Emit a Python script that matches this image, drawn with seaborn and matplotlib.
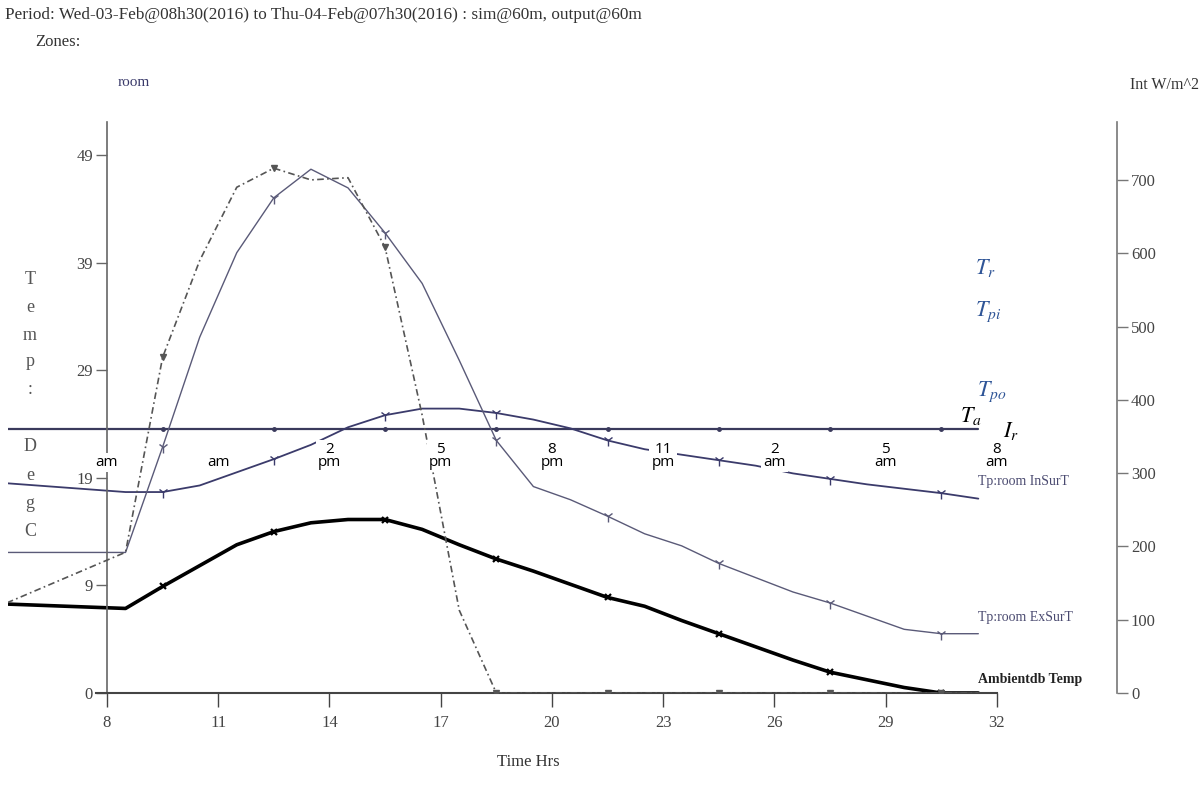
import matplotlib
matplotlib.use('Agg')
import matplotlib.pyplot as plt
import seaborn as sns

# hourly results (half-hour stamps), first value is where the trace enters on the left
hours = [5.3, 8.5, 9.5, 10.5, 11.5, 12.5, 13.5, 14.5, 15.5, 16.5, 17.5, 18.5, 19.5,
         20.5, 21.5, 22.5, 23.5, 24.5, 25.5, 26.5, 27.5, 28.5, 29.5, 30.5, 31.5]
ambient_db = [8.1, 7.7, 9.7, 11.6, 13.5, 14.7, 15.5, 15.8, 15.8, 14.9, 13.5, 12.2, 11.1,
              9.9, 8.7, 7.9, 6.6, 5.4, 4.2, 3.0, 1.9, 1.2, 0.5, 0.0, 0.0]
in_sur_t = [19.1, 18.3, 18.3, 18.9, 20.1, 21.3, 22.6, 24.2, 25.3, 25.9, 25.9, 25.5, 24.9,
            24.1, 23.0, 22.2, 21.7, 21.2, 20.7, 20.0, 19.5, 19.0, 18.6, 18.2, 17.7]
ex_sur_t = [12.8, 12.8, 22.4, 32.4, 40.1, 45.1, 47.7, 46.0, 41.9, 37.3, 30.3, 23.0, 18.8,
            17.6, 16.1, 14.5, 13.4, 11.8, 10.5, 9.2, 8.2, 7.0, 5.8, 5.4, 5.4]
flat_temp = [24.0, 24.0, 24.0, 24.0, 24.0, 24.0, 24.0, 24.0, 24.0, 24.0, 24.0, 24.0, 24.0,
             24.0, 24.0, 24.0, 24.0, 24.0, 24.0, 24.0, 24.0, 24.0, 24.0, 24.0, 24.0]
solar_int = [123, 192, 458, 590, 690, 716, 700, 703, 608, 379, 113, 0, 0,
             0, 0, 0, 0, 0, 0, 0, 0, 0, 0, 0, 0]

temp_ticks = [0, 9.8, 19.6, 29.4, 39.2, 49]
temp_tick_labels = ['0', '9', '19', '29', '39', '49']
hour_ticks = [8, 11, 14, 17, 20, 23, 26, 29, 32]
clock_labels = ['am', 'am', '2\npm', '5\npm', '8\npm', '11\npm', '2\nam', '5\nam', '8\nam']
int_ticks = [0, 100, 200, 300, 400, 500, 600, 700]

sns.set_theme(style='ticks')
plt.rcParams['font.family'] = ['Liberation Serif', 'DejaVu Serif']
plt.rcParams['mathtext.fontset'] = 'stix'

W, H = 1201, 787
fig = plt.figure(figsize=(W / 100, H / 100), dpi=100)
ax = fig.add_axes([8 / W, 94 / H, 1109 / W, 571 / H])
ax.set_xlim(5.33, 35.24)
ax.set_ylim(0, 52)
ax2 = ax.twinx()
ax2.set_ylim(0, 779)

mk = (2, 3)


def trace(target, y, color, lw, marker, ms, mew=1.0):
    sns.lineplot(x=hours, y=y, ax=target, color=color, lw=lw, marker=marker, ms=ms,
                 mew=mew, mec=color, mfc=color, markevery=mk, sort=False)
    return target.lines[-1]


trace(ax, flat_temp, '#3a3a5c', 1.6, '.', 5)
trace(ax, in_sur_t, '#3b3b6b', 1.3, '1', 8)
trace(ax, ex_sur_t, '#5a5a78', 1.0, '1', 8)
trace(ax, ambient_db, 'black', 2.6, 'x', 5, mew=1.6)
sol = trace(ax2, solar_int, '#555555', 1.2, 'v', 5)
sol.set_dashes([4, 2, 1, 2])

# axes look like the ESP-r plot: left axis sits at hour 8
for s in ['top', 'right']:
    ax.spines[s].set_visible(False)
ax.spines['left'].set_position(('data', 8))
ax.spines['left'].set_color('#666666')
ax.spines['left'].set_linewidth(1.2)
ax.spines['bottom'].set_bounds(7.7, 32)
ax.spines['bottom'].set_color('#444444')
ax.spines['bottom'].set_linewidth(1.5)
for s in ['left', 'top', 'bottom']:
    ax2.spines[s].set_visible(False)
ax2.spines['right'].set_color('#777777')
ax2.spines['right'].set_linewidth(1.2)

ax.set_yticks(temp_ticks)
ax.set_yticklabels(temp_tick_labels)
ax.set_xticks(hour_ticks)
ax.set_xticklabels([str(h) for h in hour_ticks])
ax.tick_params(axis='y', length=8, width=1, color='#666666', pad=2, labelsize=12,
               labelcolor='#444444')
ax.tick_params(axis='x', length=10, width=1, color='#444444', pad=6, labelsize=12,
               labelcolor='#444444')
ax2.set_yticks(int_ticks)
ax2.tick_params(axis='y', length=8, width=1, color='#777777', pad=2, labelsize=12,
                labelcolor='#444444')
ax.set_xlabel('')
ax.set_ylabel('')
ax2.set_ylabel('')

for h, lab in zip(hour_ticks, clock_labels):
    ax2.text(h, 20.3, lab, transform=ax.transData, ha='center', va='bottom',
             fontsize=11, family='Open Sans', linespacing=0.8, color='black', zorder=6,
             bbox=dict(facecolor='white', edgecolor='none', pad=1.5))


def ftext(x, y, s, **kw):
    fig.text(x / W, 1 - y / H, s, **kw)


ftext(5, 15, 'Period: Wed-03-Feb@08h30(2016) to Thu-04-Feb@07h30(2016) : sim@60m, output@60m',
      fontsize=12.4, color='#333333', va='center')
ftext(35, 42, 'Zones:', fontsize=12, color='#333333', va='center')
ftext(118, 82, 'room', fontsize=11, color='#3a3a6a', va='center')
ftext(1130, 85, 'Int W/m^2', fontsize=11.5, color='#333333', va='center')
ftext(528, 762, 'Time Hrs', fontsize=12, color='#333333', ha='center', va='center')

for y, ch in zip([280, 308, 335, 362, 390, 447, 475, 503, 531],
                 ['T', 'e', 'm', 'p', ':', 'D', 'e', 'g', 'C']):
    ftext(30, y, ch, fontsize=13, color='#555555', ha='center', va='center')

ftext(978, 482, 'Tp:room InSurT', fontsize=10, color='#4a4a70', va='center')
ftext(978, 618, 'Tp:room ExSurT', fontsize=10, color='#4a4a70', va='center')
ftext(978, 679, 'Ambientdb Temp', fontsize=10, color='#222222', va='center',
      fontweight='bold')

blue = '#2f5597'
ftext(975, 268, '$T_r$', fontsize=16, color=blue, va='center')
ftext(975, 312, '$T_{pi}$', fontsize=16, color=blue, va='center')
ftext(977, 392, '$T_{po}$', fontsize=16, color=blue, va='center')
ftext(960, 416, '$T_a$', fontsize=16, color='black', va='center')
ftext(1003, 431, '$I_r$', fontsize=16, color='black', va='center')

fig.savefig('out.png', dpi=100, facecolor='white')
